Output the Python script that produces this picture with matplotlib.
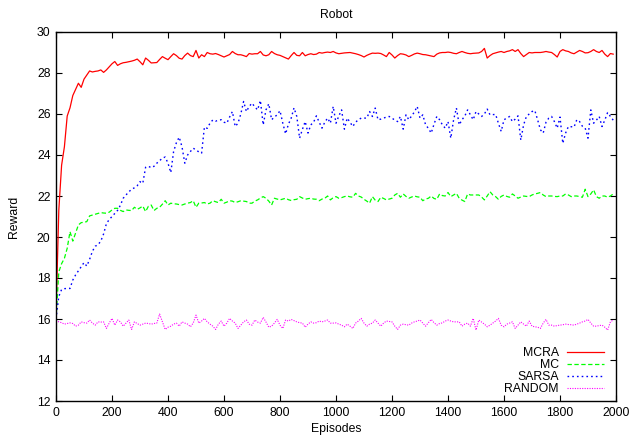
import matplotlib
matplotlib.use('Agg')
import matplotlib.pyplot as plt
import numpy as np

#Episodes sampled every 10
episodes = np.arange(0, 2000, 10)

mcra = [16.2, 21.3, 23.5, 24.4, 25.9, 26.3, 26.9, 27.2, 27.5, 27.3,
        27.7, 27.9, 28.1, 28.05, 28.08, 28.1, 28.15, 28.03, 28.15, 28.3,
        28.45, 28.56, 28.37, 28.45, 28.5, 28.52, 28.55, 28.58, 28.62, 28.68,
        28.55, 28.4, 28.73, 28.62, 28.49, 28.5, 28.51, 28.66, 28.8, 28.72,
        28.65, 28.8, 28.94, 28.85, 28.72, 28.68, 28.85, 28.97, 28.85, 28.8,
        29.1, 28.73, 28.89, 28.8, 29.0, 28.94, 28.92, 28.95, 28.9, 28.84,
        28.78, 28.84, 28.9, 29.05, 28.95, 28.89, 28.89, 28.85, 28.8, 28.95,
        28.92, 28.94, 28.94, 29.05, 28.88, 28.84, 28.89, 29.05, 28.95, 28.89,
        28.86, 28.8, 28.74, 28.68, 28.85, 29.0, 28.86, 28.84, 29.0, 28.84,
        28.9, 28.94, 28.9, 28.92, 29.0, 28.97, 29.0, 29.02, 29.0, 29.05,
        28.98, 28.94, 28.96, 28.98, 28.99, 29.0, 28.97, 28.94, 28.9, 28.85,
        28.78, 28.86, 28.92, 28.97, 28.96, 28.97, 28.95, 28.88, 28.8, 29.0,
        28.88, 28.73, 28.85, 28.94, 28.92, 28.88, 28.8, 28.86, 28.93, 28.97,
        28.94, 28.9, 28.89, 28.86, 28.83, 28.8, 28.92, 28.98, 29.0, 29.0,
        29.02, 29.0, 28.96, 28.94, 29.0, 29.05, 29.0, 28.96, 28.94, 28.96,
        28.97, 28.98, 29.05, 29.2, 28.73, 28.85, 28.94, 28.98, 29.02, 29.05,
        29.0, 29.05, 29.08, 29.14, 29.05, 29.14, 28.95, 28.8, 28.9, 29.0,
        28.98, 29.0, 29.0, 29.0, 29.02, 29.05, 29.02, 29.0, 28.9, 28.78,
        29.05, 29.14, 29.08, 29.05, 28.98, 28.94, 29.02, 29.1, 29.05, 28.98,
        28.99, 29.05, 29.14, 29.05, 29.0, 29.1, 28.92, 28.8, 28.95, 28.92]

mc = [16.0, 18.3, 18.7, 18.96, 19.45, 20.26, 19.8, 20.2, 20.59, 20.7,
      20.72, 20.75, 21.03, 21.07, 21.11, 21.15, 21.19, 21.17, 21.16, 21.21,
      21.32, 21.4, 21.4, 21.3, 21.24, 21.32, 21.3, 21.29, 21.45, 21.35,
      21.42, 21.51, 21.24, 21.5, 21.56, 21.29, 21.4, 21.45, 21.6, 21.77,
      21.56, 21.65, 21.62, 21.61, 21.58, 21.56, 21.61, 21.65, 21.68, 21.77,
      21.45, 21.65, 21.66, 21.68, 21.61, 21.65, 21.77, 21.72, 21.68, 21.84,
      21.65, 21.7, 21.77, 21.75, 21.68, 21.72, 21.77, 21.75, 21.73, 21.65,
      21.65, 21.75, 21.81, 21.9, 21.97, 21.89, 21.75, 21.56, 21.89, 21.85,
      21.81, 21.85, 21.89, 21.82, 21.78, 21.82, 21.84, 21.97, 21.9, 21.84,
      21.87, 21.89, 21.85, 21.84, 21.77, 21.85, 21.89, 22.0, 21.81, 21.92,
      21.97, 21.89, 21.92, 21.97, 22.0, 21.96, 21.94, 22.13, 22.0, 21.95,
      21.84, 21.75, 21.65, 21.97, 21.8, 21.73, 21.94, 21.88, 21.81, 21.85,
      21.89, 22.05, 22.13, 21.94, 22.1, 21.98, 21.89, 21.95, 22.0, 21.96,
      21.94, 21.77, 21.85, 21.89, 22.0, 21.88, 21.84, 22.1, 22.02, 22.0,
      22.17, 21.97, 22.05, 22.13, 21.89, 21.8, 21.73, 22.1, 22.05, 22.05,
      22.05, 22.05, 21.95, 21.81, 22.0, 22.21, 22.05, 21.97, 21.84, 21.98,
      22.05, 21.98, 21.94, 22.1, 22.0, 21.89, 21.95, 22.0, 21.98, 21.97,
      22.05, 22.1, 22.13, 22.17, 22.05, 21.97, 22.0, 22.0, 21.98, 21.97,
      22.0, 22.0, 22.1, 22.05, 21.97, 22.0, 22.0, 21.97, 21.94, 22.33,
      21.97, 22.1, 22.3, 21.97, 21.89, 22.0, 22.0, 21.94, 22.0, 22.1]

sarsa = [16.0, 17.1, 17.44, 17.48, 17.49, 17.49, 17.9, 18.15, 18.35, 18.55,
         18.75, 18.58, 18.91, 19.3, 19.55, 19.62, 19.8, 20.15, 20.65, 20.85,
         21.0, 21.15, 21.3, 21.55, 21.89, 22.05, 22.2, 22.33, 22.4, 22.5,
         22.7, 22.62, 23.4, 23.45, 23.38, 23.45, 23.6, 23.72, 23.85, 23.9,
         23.6, 23.14, 24.17, 24.6, 24.87, 24.4, 23.6, 24.0, 24.17, 24.33,
         24.25, 24.15, 24.09, 25.36, 25.3, 25.55, 25.71, 25.65, 25.7, 25.72,
         25.6, 25.55, 25.85, 26.12, 25.39, 25.55, 26.0, 26.61, 26.12, 26.37,
         26.53, 26.35, 26.2, 26.66, 25.47, 26.2, 26.5, 25.72, 25.85, 25.96,
         26.16, 25.55, 25.03, 25.5, 25.8, 26.3, 25.88, 24.82, 25.25, 25.63,
         25.07, 25.47, 25.6, 25.91, 25.6, 25.31, 25.6, 25.8, 25.55, 26.37,
         25.55, 25.9, 26.2, 25.26, 25.8, 25.6, 25.39, 25.6, 25.72, 25.8,
         25.8, 25.8, 26.12, 25.88, 26.29, 25.72, 25.75, 25.8, 25.85, 25.88,
         25.8, 25.7, 25.63, 25.88, 25.26, 25.96, 25.72, 25.9, 26.1, 26.37,
         25.8, 25.96, 25.47, 25.3, 25.07, 25.5, 25.88, 25.72, 25.47, 25.31,
         25.63, 24.82, 25.72, 26.29, 25.47, 25.72, 25.9, 26.2, 25.96, 25.72,
         26.12, 26.0, 25.88, 26.0, 26.24, 25.96, 25.97, 25.98, 25.55, 25.15,
         25.72, 25.8, 25.88, 25.63, 25.75, 25.91, 24.73, 25.47, 25.88, 26.0,
         26.12, 26.17, 25.72, 25.23, 25.07, 25.6, 25.8, 25.88, 25.63, 25.31,
         25.85, 24.57, 25.07, 25.39, 25.38, 25.36, 25.72, 25.63, 25.4, 25.31,
         24.82, 26.2, 25.55, 25.7, 25.88, 25.39, 25.7, 26.07, 25.88, 25.7]

rand = [15.95, 15.86, 15.82, 15.75, 15.78, 15.81, 15.78, 15.65, 15.7, 15.86,
        15.82, 15.8, 15.95, 15.8, 15.7, 15.86, 15.85, 15.86, 15.54, 15.8,
        16.03, 15.7, 15.95, 15.86, 15.65, 15.8, 15.95, 15.49, 15.86, 15.78,
        15.7, 15.75, 15.8, 15.78, 15.75, 15.78, 15.8, 16.24, 15.86, 15.49,
        15.6, 15.65, 15.75, 15.8, 15.65, 15.86, 15.8, 15.75, 15.62, 15.8,
        16.19, 15.8, 15.9, 16.03, 15.86, 15.75, 15.65, 15.49, 15.75, 15.9,
        15.65, 15.8, 16.03, 15.9, 15.8, 15.54, 15.7, 15.86, 15.95, 15.75,
        15.7, 15.95, 15.85, 15.8, 16.08, 15.85, 15.6, 15.65, 15.8, 15.98,
        15.7, 15.54, 15.95, 15.9, 15.98, 15.92, 15.86, 15.82, 15.8, 15.6,
        15.75, 15.86, 15.8, 15.82, 15.9, 15.86, 15.9, 15.95, 15.8, 15.8,
        15.81, 15.75, 15.7, 15.62, 15.75, 15.65, 15.54, 15.8, 15.9, 16.03,
        15.8, 15.65, 15.75, 15.8, 15.95, 15.8, 15.65, 15.8, 15.9, 15.88,
        15.86, 15.65, 15.49, 15.7, 15.75, 15.72, 15.7, 15.8, 15.86, 15.9,
        15.95, 15.8, 15.65, 15.82, 15.98, 15.82, 15.7, 15.78, 15.81, 15.9,
        15.95, 15.9, 15.86, 15.86, 15.86, 15.65, 15.75, 15.8, 15.65, 16.03,
        15.46, 15.95, 15.85, 15.75, 15.62, 15.7, 15.8, 15.9, 16.03, 15.7,
        15.62, 15.75, 15.8, 15.86, 15.54, 15.7, 15.86, 15.75, 15.65, 15.9,
        15.65, 15.62, 15.6, 15.54, 15.8, 15.98, 15.7, 15.7, 15.65, 15.68,
        15.7, 15.72, 15.75, 15.73, 15.72, 15.7, 15.75, 15.8, 15.86, 15.9,
        15.98, 15.8, 15.65, 15.65, 15.68, 15.7, 15.6, 15.46, 15.86, 15.95]

plt.rcParams['font.family'] = ['Liberation Sans', 'DejaVu Sans']
plt.rcParams['font.size'] = 8.8

fig = plt.figure(figsize=(6.32, 4.40), dpi=100)
ax = fig.add_axes([56/632, 1-401/440, 560/632, 369/440])

ax.plot(episodes, mcra, color='#ff0000', lw=0.9, label='MCRA')
ax.plot(episodes, mc, color='#00ff00', lw=0.9, ls=(0, (3.5, 2)), label='MC')
ax.plot(episodes, sarsa, color='#0000ff', lw=1.0, ls=(0, (1.2, 2.2)), label='SARSA')
ax.plot(episodes, rand, color='#ff00ff', lw=0.8, ls=(0, (1, 1.2)), label='RANDOM')

#Gnuplot style axes
ax.set_xlim(0, 2000)
ax.set_ylim(12, 30)
ax.set_xticks(np.arange(0, 2001, 200))
ax.set_yticks(np.arange(12, 31, 2))
ax.tick_params(direction='in', length=4.5, width=0.8, top=True, right=True, pad=4, colors='black')
for s in ax.spines.values():
    s.set_linewidth(1.0)

ax.set_title('Robot', pad=10, fontsize=8.8)
ax.set_xlabel('Episodes', labelpad=3)
ax.set_ylabel('Reward', labelpad=12)

leg = ax.legend(loc='lower right', bbox_to_anchor=(604/632, 1-395/440), bbox_transform=fig.transFigure,
                frameon=False, markerfirst=False, handlelength=3.0, handletextpad=0.7,
                labelspacing=0.0, borderpad=0, borderaxespad=0)

fig.savefig('out.png', dpi=100)
